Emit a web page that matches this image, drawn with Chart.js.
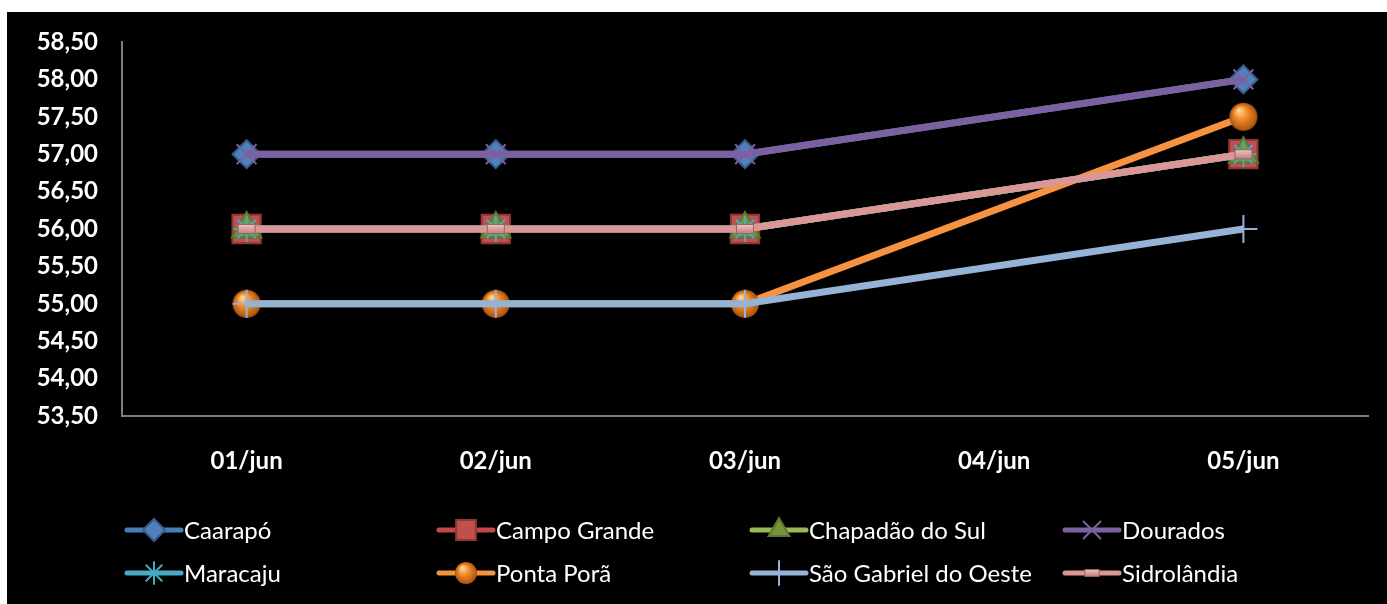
<!DOCTYPE html>
<html>
<head>
<meta charset="utf-8">
<script src="https://cdn.jsdelivr.net/npm/chart.js@4"></script>
<style>
  html, body { margin: 0; padding: 0; background: #fff; }
  #wrap { position: absolute; left: 7px; top: 12px; width: 1380px; height: 592px; background: #000; }
</style>
</head>
<body>
<div id="wrap"><canvas id="chart"></canvas></div>
<script>
// data (04/jun has no values)
const days        = ['01/jun', '02/jun', '03/jun', '04/jun', '05/jun'];
const caarapo     = [57, 57, 57, null, 58];
const campoGrande = [56, 56, 56, null, 57];
const chapadao    = [56, 56, 56, null, 57];
const dourados    = [57, 57, 57, null, 58];
const maracaju    = [56, 56, 56, null, 57];
const pontaPora   = [55, 55, 55, null, 57.5];
const saoGabriel  = [55, 55, 55, null, 56];
const sidrolandia = [56, 56, 56, null, 57];
const names = ['Caarapó', 'Campo Grande', 'Chapadão do Sul', 'Dourados',
               'Maracaju', 'Ponta Porã', 'São Gabriel do Oeste', 'Sidrolândia'];
const yMin = 53.5, yMax = 58.5, yStep = 0.5;

const FONT = 'Lato, "Open Sans", sans-serif';

// little drawn markers (sphere + flat pink bar)
function sphere(r) {
  const c = document.createElement('canvas');
  c.width = c.height = 2 * r + 2;
  const x = c.getContext('2d');
  const g = x.createRadialGradient(r * 0.75, r * 0.6, 1, r + 1, r + 1, r);
  g.addColorStop(0, '#ffd29a');
  g.addColorStop(0.45, '#f28a25');
  g.addColorStop(1, '#a9520f');
  x.fillStyle = g;
  x.beginPath(); x.arc(r + 1, r + 1, r, 0, Math.PI * 2); x.fill();
  return c;
}
function pinkBar(w, h) {
  const c = document.createElement('canvas');
  c.width = w + 2; c.height = h + 2;
  const x = c.getContext('2d');
  const g = x.createLinearGradient(0, 0, 0, h);
  g.addColorStop(0, '#f6d0ce');
  g.addColorStop(1, '#c48482');
  x.fillStyle = g;
  x.strokeStyle = '#9a6462';
  x.lineWidth = 1;
  x.fillRect(1, 1, w, h);
  x.strokeRect(1.5, 1.5, w - 1, h - 1);
  return c;
}

const styles = [
  { color: '#4a7ebb', fill: '#4f81bd', edge: '#385d8a', point: 'rectRot',  r: 14, lr: 11 },
  { color: '#be4b48', fill: '#c0504d', edge: '#8c3836', point: 'rect',     r: 20, lr: 14 },
  { color: '#98b954', fill: '#76923c', edge: '#5f7530', point: 'triangle', r: 17, lr: 12 },
  { color: '#7d60a0', fill: '#8064a2', edge: '#7d60a0', point: 'crossRot', r: 14, lr: 12 },
  { color: '#46aac5', fill: '#4bacc6', edge: '#46aac5', point: 'star',     r: 13, lr: 11 },
  { color: '#f69240', fill: '#f79646', edge: '#b66d31', point: sphere(14), r: 14, lr: 0, legendPoint: sphere(11) },
  { color: '#95b3d7', fill: '#95b3d7', edge: '#95b3d7', point: 'cross',    r: 14, lr: 12 },
  { color: '#d99795', fill: '#d99694', edge: '#9a6462', point: pinkBar(18, 10), r: 9, lr: 0, legendPoint: pinkBar(15, 8) }
];

const seriesData = [caarapo, campoGrande, chapadao, dourados, maracaju, pontaPora, saoGabriel, sidrolandia];

const datasets = seriesData.map((d, i) => ({
  label: names[i],
  data: d,
  borderColor: styles[i].color,
  backgroundColor: styles[i].fill,
  borderWidth: 7,
  pointStyle: styles[i].point,
  pointRadius: styles[i].r,
  pointHoverRadius: styles[i].r,
  pointBackgroundColor: styles[i].fill,
  pointBorderColor: styles[i].edge,
  pointBorderWidth: 2,
  spanGaps: true,
  tension: 0,
  order: seriesData.length - i   // later series drawn on top, like the original
}));

// legend in a fixed 4-column grid
const gridLegend = {
  id: 'gridLegend',
  afterDraw(chart) {
    const ctx = chart.ctx;
    const cols = [118, 430, 743, 1056];
    const rows = [518, 561];
    ctx.save();
    datasets.forEach((ds, i) => {
      const st = styles[i];
      const x = cols[i % 4], y = rows[Math.floor(i / 4)];
      ctx.strokeStyle = st.color;
      ctx.lineWidth = 5;
      ctx.lineCap = 'round';
      ctx.beginPath(); ctx.moveTo(x + 2, y); ctx.lineTo(x + 56, y); ctx.stroke();
      ctx.fillStyle = st.fill;
      ctx.strokeStyle = st.edge;
      ctx.lineWidth = 2;
      Chart.helpers.drawPoint(ctx, {
        pointStyle: st.legendPoint || st.point,
        radius: st.lr,
        rotation: 0,
        borderWidth: 2
      }, x + 29, y);
      ctx.fillStyle = '#fff';
      ctx.font = '24px ' + FONT;
      ctx.textAlign = 'left';
      ctx.textBaseline = 'middle';
      ctx.fillText(ds.label, x + 59, y + 1);
    });
    ctx.restore();
  }
};

new Chart(document.getElementById('chart'), {
  type: 'line',
  data: { labels: days, datasets },
  plugins: [gridLegend],
  options: {
    responsive: true,
    maintainAspectRatio: false,
    animation: false,
    layout: { autoPadding: false, padding: { left: 0, top: 30, right: 19, bottom: 0 } },
    plugins: {
      legend: { display: false },
      tooltip: { enabled: false }
    },
    scales: {
      x: {
        offset: true,
        grid: { display: false, drawTicks: false },
        border: { display: true, color: '#7f7f7f', width: 2 },
        ticks: { color: '#fff', padding: 31, font: { family: FONT, size: 24, weight: 'bold' } },
        afterFit: s => { s.height = 188; s.paddingLeft = 0; s.paddingRight = 0; }
      },
      y: {
        min: yMin,
        max: yMax,
        grid: { display: false, drawTicks: false },
        border: { display: true, color: '#7f7f7f', width: 2 },
        ticks: {
          stepSize: yStep,
          color: '#fff',
          padding: 24,
          font: { family: FONT, size: 24, weight: 'bold' },
          callback: v => v.toFixed(2).replace('.', ',')
        },
        afterFit: s => { s.width = 115; s.paddingTop = 0; s.paddingBottom = 0; }
      }
    }
  }
});
</script>
</body>
</html>
